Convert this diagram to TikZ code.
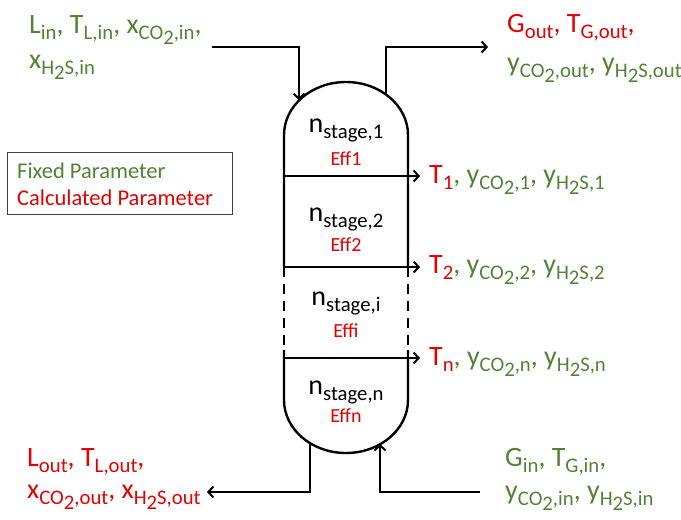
\documentclass[tikz,border=0pt]{standalone}
\usepackage{fontspec}
\setmainfont{Carlito}
\usetikzlibrary{arrows.meta}
\definecolor{fixg}{RGB}{84,130,53}
\definecolor{calr}{RGB}{228,0,0}
\newcommand\sbs[1]{\raisebox{-0.22em}{\scalebox{0.74}{#1}}}
\newcommand\ssb[1]{\raisebox{-0.25em}{#1}}
\begin{document}
\begin{tikzpicture}[x=1pt,y=-1pt,
  lbl/.style={anchor=base west, inner sep=0pt, font=\fontsize{28}{34}\selectfont},
  stg/.style={anchor=base, inner sep=0pt, font=\fontsize{28}{34}\selectfont},
  eff/.style={anchor=base, inner sep=0pt, font=\fontsize{20}{24}\selectfont, text=calr},
  leg/.style={anchor=base west, inner sep=0pt, font=\fontsize{22.5}{27}\selectfont},
  wall/.style={line width=2.4pt},
  flow/.style={line width=2.4pt, -{Straight Barb[length=5pt,width=11pt,line width=2pt]}},
  legendbox/.style={draw=black!75, line width=1pt, minimum width=225pt, minimum height=62pt, inner sep=0pt}]
\useasboundingbox (0,0) rectangle (681,520);

% column
\draw[wall] (284,267) -- (284,135) arc[start angle=180,end angle=0,x radius=62pt,y radius=53pt] -- (408,267);
\draw[wall,dash pattern=on 10pt off 7pt] (284,267) -- (284,350);
\draw[wall,dash pattern=on 10pt off 7pt] (408,267) -- (408,350);
\draw[wall] (284,350) -- (284,400) arc[start angle=180,end angle=360,x radius=62pt,y radius=53pt] -- (408,350);

% coordinates
\coordinate (feedS) at (212,47);
\coordinate (feedE) at (299,100);
\coordinate (topS) at (386,95);
\coordinate (topE) at (488,47);
\coordinate (botS) at (310,443);
\coordinate (botE) at (207,492);
\coordinate (ginS) at (480,492);
\coordinate (ginE) at (380,444);
\coordinate (t1S) at (284,176); \coordinate (t1E) at (420,176);
\coordinate (t2S) at (284,267); \coordinate (t2E) at (420,267);
\coordinate (tnS) at (284,358); \coordinate (tnE) at (420,358);

\draw[flow] (feedS) -| (feedE);
\draw[flow] (topS) |- (topE);
\draw[flow] (botS) |- (botE);
\draw[flow] (ginS) -| (ginE);
\draw[flow] (t1S) -- (t1E);
\draw[flow] (t2S) -- (t2E);
\draw[flow] (tnS) -- (tnE);

% stage labels
\node[stg] (s1) at (346,132) {n\sbs{stage,1}};
\node[eff] (e1) at (346,165) {Eff1};
\node[stg] (s2) at (346,221) {n\sbs{stage,2}};
\node[eff] (e2) at (346,251) {Eff2};
\node[stg] (si) at (346,305) {n\sbs{stage,i}};
\node[eff] (ei) at (346,337) {Effi};
\node[stg] (sn) at (346,394) {n\sbs{stage,n}};
\node[eff] (en) at (346,422) {Effn};

% stream labels
\node[lbl,text=fixg] (tl1) at (29,33) {L\sbs{in}, T\sbs{L,in}, x\sbs{CO\ssb{2},in},};
\node[lbl,text=fixg] (tl2) at (29,68) {x\sbs{H\ssb{2}S,in}};
\node[lbl,text=calr] (tr1) at (507,32) {G\sbs{out}, T\sbs{G,out},};
\node[lbl,text=fixg] (tr2) at (507,71) {y\sbs{CO\ssb{2},out}, y\sbs{H\ssb{2}S,out}};
\node[lbl,text=fixg] (o1) at (429,183) {\textcolor{calr}{T\sbs{1}}, y\sbs{CO\ssb{2},1}, y\sbs{H\ssb{2}S,1}};
\node[lbl,text=fixg] (o2) at (429,273) {\textcolor{calr}{T\sbs{2}}, y\sbs{CO\ssb{2},2}, y\sbs{H\ssb{2}S,2}};
\node[lbl,text=fixg] (on) at (429,365) {\textcolor{calr}{T\sbs{n}}, y\sbs{CO\ssb{2},n}, y\sbs{H\ssb{2}S,n}};
\node[lbl,text=calr] (bl1) at (27,466) {L\sbs{out}, T\sbs{L,out},};
\node[lbl,text=calr] (bl2) at (27,498) {x\sbs{CO\ssb{2},out}, x\sbs{H\ssb{2}S,out}};
\node[lbl,text=fixg] (br1) at (505,466) {G\sbs{in}, T\sbs{G,in},};
\node[lbl,text=fixg] (br2) at (505,499) {y\sbs{CO\ssb{2},in}, y\sbs{H\ssb{2}S,in}};

% legend
\node[legendbox] (legend) at (119.5,183) {};
\node[leg,text=fixg] (lf) at (17,178) {Fixed Parameter};
\node[leg,text=calr] (lc) at (17,205) {Calculated Parameter};
\end{tikzpicture}
\end{document}
